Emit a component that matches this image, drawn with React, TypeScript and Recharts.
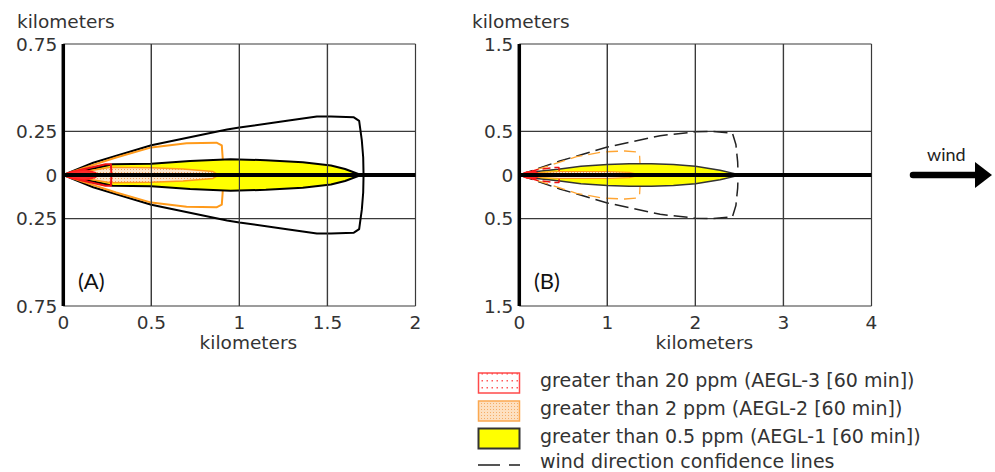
import React from 'react';
import { ComposedChart, Area, XAxis, YAxis, CartesianGrid, ReferenceLine, Label } from 'recharts';

// ---------- Panel A : 0–2 km downwind, ±0.75 km crosswind (half-widths in km) ----------
const aXTicks = [0, 0.5, 1, 1.5, 2];
const aYTicks = [-0.75, -0.25, 0, 0.25, 0.75];
const aConfX = [0, 0.17, 0.5, 0.93, 1.0, 1.27, 1.44, 1.52, 1.65, 1.68, 1.695, 1.703, 1.705];
const aConfW = [0, 0.07, 0.17, 0.26, 0.272, 0.31, 0.335, 0.335, 0.33, 0.31, 0.2, 0.1, 0];
const aAegl2ConfX = [0, 0.1, 0.3, 0.5, 0.7, 0.87, 0.9, 0.905, 0.908];
const aAegl2ConfW = [0, 0.035, 0.1, 0.158, 0.182, 0.185, 0.17, 0.1, 0];
const aAegl3ConfX = [0, 0.1, 0.24, 0.27, 0.272, 0.273];
const aAegl3ConfW = [0, 0.03, 0.062, 0.062, 0.03, 0];
const aAegl1X = [0, 0.28, 0.5, 0.72, 0.95, 1.15, 1.36, 1.52, 1.6, 1.69];
const aAegl1W = [0, 0.062, 0.065, 0.08, 0.09, 0.085, 0.073, 0.054, 0.034, 0];
const aAegl2X = [0, 0.27, 0.5, 0.68, 0.85, 0.88];
const aAegl2W = [0, 0.045, 0.042, 0.035, 0.02, 0];
const aAegl3X = [0, 0.05, 0.12, 0.18, 0.2];
const aAegl3W = [0, 0.02, 0.03, 0.015, 0];

// ---------- Panel B : 0–4 km downwind, ±1.5 km crosswind ----------
const bXTicks = [0, 1, 2, 3, 4];
const bYTicks = [-1.5, -0.5, 0, 0.5, 1.5];
const bConfX = [0, 0.46, 1.0, 1.6, 2.0, 2.2, 2.42, 2.46, 2.48, 2.485];
const bConfW = [0, 0.16, 0.32, 0.45, 0.495, 0.5, 0.48, 0.35, 0.15, 0];
const bAegl2ConfX = [0, 0.35, 0.65, 0.95, 1.2, 1.33, 1.365, 1.372, 1.375];
const bAegl2ConfW = [0, 0.11, 0.21, 0.265, 0.275, 0.265, 0.24, 0.12, 0];
const bAegl3ConfX = [0, 0.2, 0.4, 0.45, 0.455];
const bAegl3ConfW = [0, 0.06, 0.085, 0.085, 0];
const bAegl1X = [0, 0.2, 0.44, 0.7, 1.0, 1.25, 1.5, 1.75, 2.0, 2.28, 2.47, 2.49];
const bAegl1W = [0, 0.04, 0.065, 0.1, 0.12, 0.13, 0.13, 0.12, 0.1, 0.055, 0.01, 0];
const bAegl2X = [0, 0.25, 0.45, 1.0, 1.25, 1.38];
const bAegl2W = [0, 0.03, 0.04, 0.04, 0.03, 0];
const bAegl3X = [0, 0.08, 0.18, 0.25];
const bAegl3W = [0, 0.035, 0.04, 0];

const legendLabels = [
  'greater than 20 ppm (AEGL-3 [60 min])',
  'greater than 2 ppm (AEGL-2 [60 min])',
  'greater than 0.5 ppm (AEGL-1 [60 min])',
  'wind direction confidence lines',
];

const FONT = "'DejaVu Sans', Verdana, sans-serif";
const LABEL_FONT = "Lato, 'Open Sans', sans-serif";
const TEXT = '#333';

type LayerDef = {
  x: number[];
  w: number[];
  stroke: string;
  strokeWidth: number;
  fill: string;
  dash?: string;
};

const toRange = (x: number[], w: number[]) => x.map((v, i) => ({ x: v, r: [-w[i], w[i]] }));

function Panel(props: {
  left: number;
  id: string;
  xMax: number;
  yMax: number;
  xTicks: number[];
  yTicks: number[];
  layers: LayerDef[];
}) {
  const { left, id, xMax, yMax, xTicks, yTicks, layers } = props;
  return (
    <div style={{ position: 'absolute', left, top: 0 }}>
      <ComposedChart width={440} height={360} margin={{ top: 44, right: 24.5, bottom: 24, left: 0 }}>
        <defs>
          <pattern id={`${id}-or`} width="3" height="3" patternUnits="userSpaceOnUse">
            <rect width="3" height="3" fill="#fde7cf" />
            <rect x="1" y="1" width="1" height="1" fill="#f2a35a" />
          </pattern>
        </defs>
        <CartesianGrid stroke="#3a3a3a" strokeWidth={1.2} />
        <XAxis
          type="number"
          dataKey="x"
          domain={[0, xMax]}
          ticks={xTicks}
          interval={0}
          allowDataOverflow
          axisLine={false}
          tickLine={false}
          tickSize={0}
          tickMargin={10}
          height={30}
          tick={{ fill: TEXT, fontSize: 18.5, fontFamily: FONT }}
          tickFormatter={(v: number) => String(v)}
        >
          <Label value="kilometers" position="bottom" offset={0} dx={9} style={{ fill: TEXT, fontSize: 18.5, fontFamily: FONT }} />
        </XAxis>
        <YAxis
          type="number"
          domain={[-yMax, yMax]}
          ticks={yTicks}
          interval={0}
          allowDataOverflow
          width={63.3}
          axisLine={{ stroke: '#000', strokeWidth: 3.5 }}
          tickLine={false}
          tickSize={0}
          tickMargin={6}
          tick={{ fill: TEXT, fontSize: 18.5, fontFamily: FONT }}
          tickFormatter={(v: number) => String(Math.abs(v))}
        />
        {layers.map((l, i) => (
          <Area
            key={i}
            data={toRange(l.x, l.w)}
            dataKey="r"
            type="linear"
            stroke={l.stroke}
            strokeWidth={l.strokeWidth}
            strokeDasharray={l.dash}
            strokeLinejoin="round"
            fill={l.fill === 'pattern' ? `url(#${id}-or)` : l.fill}
            fillOpacity={l.fill === 'none' ? 0 : 1}
            dot={false}
            activeDot={false}
            isAnimationActive={false}
          />
        ))}
        {xTicks.slice(1, -1).map((t) => (
          <ReferenceLine key={`v${t}`} x={t} stroke="#3a3a3a" strokeWidth={1.2} />
        ))}
        <ReferenceLine y={0} stroke="#000" strokeWidth={4} />
      </ComposedChart>
    </div>
  );
}

const layersA: LayerDef[] = [
  { x: aConfX, w: aConfW, stroke: '#000', strokeWidth: 2, fill: 'none' },
  { x: aAegl2ConfX, w: aAegl2ConfW, stroke: '#ff9a1a', strokeWidth: 2, fill: 'none' },
  { x: aAegl1X, w: aAegl1W, stroke: '#000', strokeWidth: 2, fill: '#ffff00' },
  { x: aAegl2X, w: aAegl2W, stroke: '#ff9a1a', strokeWidth: 1.5, fill: 'pattern' },
  { x: aAegl3ConfX, w: aAegl3ConfW, stroke: '#ee1111', strokeWidth: 2, fill: 'none' },
  { x: aAegl3X, w: aAegl3W, stroke: '#ff1a1a', strokeWidth: 1.5, fill: '#ff2a2a' },
];

const layersB: LayerDef[] = [
  { x: bConfX, w: bConfW, stroke: '#222', strokeWidth: 1.5, fill: 'none', dash: '14 6' },
  { x: bAegl2ConfX, w: bAegl2ConfW, stroke: '#ffa533', strokeWidth: 1.3, fill: 'none', dash: '12 6' },
  { x: bAegl1X, w: bAegl1W, stroke: '#333', strokeWidth: 1.5, fill: '#ffff00' },
  { x: bAegl2X, w: bAegl2W, stroke: '#ff9a1a', strokeWidth: 1.2, fill: 'pattern' },
  { x: bAegl3ConfX, w: bAegl3ConfW, stroke: '#ee1111', strokeWidth: 1.5, fill: 'none', dash: '8 4' },
  { x: bAegl3X, w: bAegl3W, stroke: '#ff1a1a', strokeWidth: 1.2, fill: '#ff2a2a' },
];

export default function App() {
  const rowBase = [386.7, 415, 442.7, 467.5];
  return (
    <div style={{ position: 'absolute', left: 0, top: 0, width: 995, height: 472, background: '#fff', overflow: 'hidden' }}>
      <Panel left={0} id="pa" xMax={2} yMax={0.75} xTicks={aXTicks} yTicks={aYTicks} layers={layersA} />
      <Panel left={456} id="pb" xMax={4} yMax={1.5} xTicks={bXTicks} yTicks={bYTicks} layers={layersB} />
      <svg width={995} height={472} style={{ position: 'absolute', left: 0, top: 0, pointerEvents: 'none' }}>
        <defs>
          <pattern id="legRed" width="5" height="7" patternUnits="userSpaceOnUse">
            <rect width="5" height="7" fill="#fff" />
            <rect x="1.5" y="2" width="1.5" height="1.5" fill="#ff5a5a" />
          </pattern>
          <pattern id="legOr" width="3" height="3" patternUnits="userSpaceOnUse">
            <rect width="3" height="3" fill="#fde0c0" />
            <rect x="1" y="1" width="1" height="1" fill="#f5ad66" />
          </pattern>
        </defs>
        <text x={17} y={28.3} fontFamily={FONT} fontSize={18.5} fill={TEXT}>kilometers</text>
        <text x={472} y={28.3} fontFamily={FONT} fontSize={18.5} fill={TEXT}>kilometers</text>
        <text x={78} y={289} fontFamily={LABEL_FONT} fontSize={22} fill="#111">(A)</text>
        <text x={534} y={289} fontFamily={LABEL_FONT} fontSize={22} fill="#111">(B)</text>

        <text x={927} y={160.7} fontFamily={LABEL_FONT} fontSize={18} fill="#222">wind</text>
        <line x1={913} y1={175} x2={980} y2={175} stroke="#000" strokeWidth={6.5} strokeLinecap="round" />
        <polygon points="975,162 992,175 975,188" fill="#000" />

        <rect x={478.5} y={373} width={41} height={20} fill="url(#legRed)" stroke="#ff4a4a" strokeWidth={1.5} />
        <rect x={478.5} y={401} width={41} height={20} fill="url(#legOr)" stroke="#fba850" strokeWidth={1.5} />
        <rect x={478.5} y={428.5} width={41} height={20} fill="#ffff00" stroke="#333" strokeWidth={2} />
        <line x1={478} y1={465} x2={500} y2={465} stroke="#555" strokeWidth={2} />
        <line x1={509} y1={465} x2={520} y2={465} stroke="#555" strokeWidth={2} />
        {legendLabels.map((t, i) => (
          <text key={t} x={540} y={rowBase[i]} fontFamily={FONT} fontSize={19} fill={TEXT}>{t}</text>
        ))}
      </svg>
    </div>
  );
}
